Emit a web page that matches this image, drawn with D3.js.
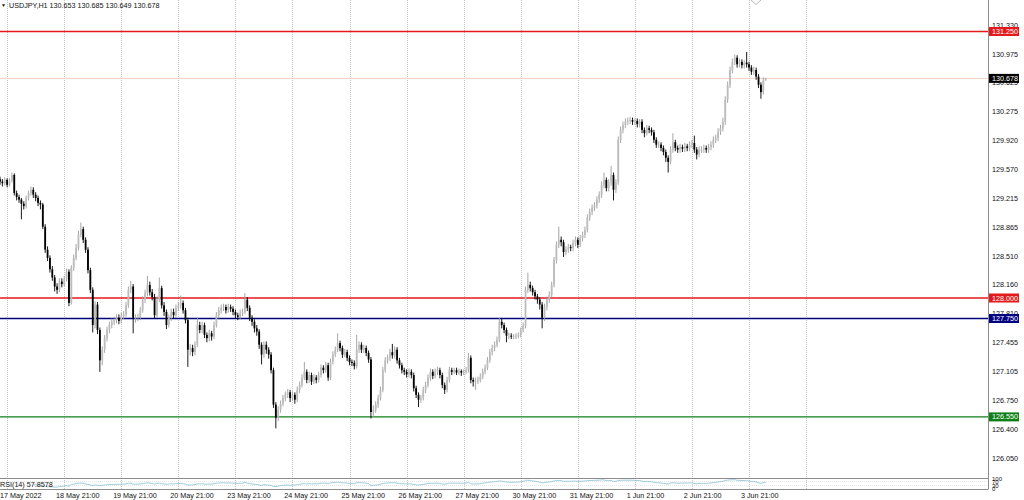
<!DOCTYPE html>
<html><head><meta charset="utf-8">
<script src="https://cdn.jsdelivr.net/npm/d3@7"></script>
<style>
body{margin:0;background:#fff;}
svg{display:block;font-family:'Liberation Sans',Arial,sans-serif;}
</style></head>
<body><svg id="c" width="1024" height="500"></svg>
<script>
// ---------------- DATA ----------------
const symbol = "USDJPY,H1";
const lastQuote = [130.653, 130.685, 130.649, 130.678]; // O H L C of current bar
const rsiLabel = "RSI(14) 57.8578";

const opens = [129.45,129.42,129.40,129.44,129.38,129.43,129.50,129.28,129.23,129.20,
129.15,129.12,129.22,129.28,129.32,129.26,129.22,129.16,129.14,128.87,
128.59,128.49,128.35,128.25,128.14,128.10,128.20,128.17,128.23,128.32,
127.94,128.37,128.49,128.61,128.77,128.84,128.71,128.59,128.34,128.10,
127.67,127.92,127.61,127.24,127.37,127.51,127.61,127.67,127.71,127.73,
127.76,127.72,127.78,127.80,127.91,128.10,128.14,127.76,127.76,127.77,
127.85,127.98,128.06,128.16,128.07,128.01,127.79,127.98,128.12,127.91,
127.83,127.67,127.76,127.83,127.79,127.88,127.91,127.94,127.85,127.73,
127.37,127.39,127.34,127.43,127.67,127.61,127.67,127.55,127.51,127.57,
127.53,127.67,127.79,127.85,127.88,127.89,127.85,127.89,127.87,127.83,
127.79,127.77,127.82,127.83,127.98,127.88,127.76,127.71,127.63,127.59,
127.43,127.31,127.43,127.37,127.31,127.12,126.70,126.54,126.64,126.71,
126.78,126.82,126.85,126.78,126.82,126.76,126.88,126.94,127.03,127.10,
127.00,127.06,126.98,127.03,127.00,127.06,127.15,127.12,127.18,127.03,
127.22,127.31,127.37,127.45,127.39,127.31,127.34,127.27,127.22,127.21,
127.17,127.37,127.43,127.37,127.39,127.33,127.25,126.61,126.64,126.70,
126.78,126.88,127.12,127.24,127.27,127.34,127.30,127.37,127.24,127.18,
127.12,127.10,127.07,127.10,127.06,126.90,126.82,126.76,126.78,126.88,
126.94,127.03,127.10,127.05,127.10,127.12,127.06,126.94,126.88,127.00,
127.12,127.10,127.12,127.09,127.11,127.09,127.10,127.12,127.27,127.00,
126.98,126.99,127.00,127.04,127.10,127.15,127.24,127.34,127.39,127.43,
127.49,127.71,127.67,127.61,127.54,127.54,127.53,127.53,127.54,127.55,
127.61,127.66,128.10,128.16,128.12,128.07,128.02,127.98,127.92,127.76,
127.89,127.98,128.04,128.16,128.46,128.65,128.71,128.68,128.56,128.59,
128.62,128.61,128.67,128.71,128.65,128.73,128.77,128.83,128.98,129.05,
129.10,129.13,129.20,129.26,129.38,129.44,129.34,129.41,129.50,129.32,
129.41,129.93,130.05,130.11,130.15,130.16,130.17,130.15,130.16,130.12,
130.15,130.05,130.01,130.07,130.05,130.02,129.93,129.87,129.87,129.83,
129.78,129.71,129.66,129.81,129.90,129.83,129.81,129.84,129.82,129.85,
129.83,129.87,129.89,129.81,129.75,129.81,129.81,129.83,129.81,129.84,
129.87,129.93,129.95,130.03,130.07,130.15,130.42,130.60,130.78,130.88,
130.93,130.85,130.88,130.84,130.87,130.85,130.81,130.76,130.78,130.70,
130.60,130.51,130.653];

const highs = [129.48,129.45,129.47,129.46,129.46,129.53,129.52,129.31,129.26,129.22,
129.18,129.25,129.31,129.36,129.35,129.29,129.25,129.19,129.16,128.90,
128.63,128.52,128.39,128.28,128.18,128.24,128.24,128.27,128.36,128.35,
128.40,128.53,128.66,128.82,128.92,128.87,128.74,128.62,128.37,128.13,
127.96,127.95,127.64,127.41,127.55,127.65,127.71,127.75,127.77,127.80,
127.80,127.82,127.84,127.95,128.14,128.21,128.17,127.80,127.81,127.89,
128.02,128.10,128.27,128.20,128.11,128.05,128.02,128.25,128.15,127.95,
127.86,127.80,127.87,127.87,127.92,127.95,128.03,127.97,127.88,127.76,
127.44,127.43,127.47,127.76,127.71,127.71,127.70,127.58,127.61,127.60,
127.71,127.83,127.89,127.92,127.93,127.92,127.93,127.92,127.90,127.86,
127.82,127.86,127.87,128.06,128.01,127.91,127.79,127.74,127.67,127.62,
127.46,127.47,127.47,127.40,127.34,127.15,126.73,126.68,126.75,126.82,
126.86,126.89,126.88,126.86,126.85,126.92,126.98,127.07,127.22,127.13,
127.10,127.09,127.07,127.06,127.10,127.19,127.18,127.22,127.21,127.26,
127.35,127.41,127.57,127.48,127.42,127.38,127.37,127.30,127.25,127.24,
127.55,127.47,127.46,127.43,127.42,127.36,127.28,126.69,126.74,126.82,
126.92,127.16,127.28,127.31,127.38,127.44,127.41,127.40,127.27,127.21,
127.15,127.13,127.14,127.13,127.09,126.93,126.85,126.82,126.92,126.98,
127.07,127.14,127.13,127.14,127.16,127.15,127.09,126.97,127.04,127.16,
127.15,127.15,127.15,127.14,127.13,127.13,127.16,127.33,127.30,127.03,
127.03,127.04,127.08,127.14,127.19,127.28,127.38,127.43,127.47,127.53,
127.76,127.75,127.70,127.64,127.58,127.57,127.56,127.57,127.58,127.64,
127.70,128.14,128.31,128.20,128.15,128.10,128.05,128.01,127.95,127.93,
128.02,128.08,128.20,128.50,128.69,128.87,128.75,128.71,128.63,128.66,
128.65,128.71,128.75,128.74,128.77,128.81,128.87,129.02,129.09,129.14,
129.17,129.24,129.30,129.42,129.53,129.47,129.45,129.61,129.53,129.45,
129.97,130.09,130.15,130.19,130.20,130.21,130.20,130.19,130.19,130.18,
130.18,130.08,130.11,130.10,130.08,130.05,129.96,129.91,129.90,129.86,
129.81,129.74,129.85,130.01,129.93,129.86,129.88,129.87,129.89,129.88,
129.91,129.93,129.98,129.84,129.85,129.85,129.87,129.86,129.88,129.91,
129.97,129.99,130.07,130.11,130.20,130.46,130.64,130.82,130.92,130.97,
130.96,130.92,130.91,130.90,131.00,130.88,130.84,130.82,130.81,130.73,
130.63,130.69,130.685];

const lows = [129.38,129.36,129.37,129.35,129.36,129.41,129.25,129.19,129.16,128.96,
129.08,129.09,129.19,129.25,129.22,129.18,129.12,129.08,128.84,128.55,
128.45,128.31,128.21,128.08,128.05,128.07,128.13,128.14,128.20,127.90,
127.92,128.33,128.46,128.58,128.74,128.67,128.55,128.30,128.06,127.58,
127.63,127.56,127.10,127.18,127.33,127.47,127.57,127.63,127.67,127.69,
127.68,127.69,127.74,127.77,127.88,128.06,127.57,127.70,127.72,127.73,
127.82,127.94,128.02,128.03,127.97,127.75,127.76,127.95,127.87,127.78,
127.62,127.64,127.72,127.75,127.76,127.84,127.87,127.81,127.69,127.16,
127.30,127.29,127.30,127.40,127.57,127.57,127.51,127.46,127.47,127.48,
127.50,127.64,127.75,127.81,127.84,127.81,127.82,127.83,127.79,127.75,
127.73,127.74,127.78,127.80,127.84,127.72,127.66,127.58,127.54,127.38,
127.19,127.27,127.32,127.26,127.08,126.66,126.41,126.50,126.60,126.68,
126.74,126.78,126.73,126.75,126.71,126.73,126.84,126.91,127.00,126.96,
126.96,126.94,126.95,126.96,126.97,127.03,127.08,127.09,126.99,127.00,
127.19,127.28,127.34,127.35,127.27,127.28,127.23,127.18,127.17,127.13,
127.14,127.33,127.33,127.33,127.29,127.21,126.53,126.55,126.60,126.66,
126.75,126.85,127.09,127.20,127.23,127.26,127.26,127.20,127.14,127.08,
127.06,127.03,127.03,127.02,126.86,126.78,126.67,126.72,126.75,126.84,
126.91,126.99,127.01,127.02,127.06,127.02,126.90,126.83,126.85,126.97,
127.06,127.07,127.06,127.06,127.05,127.06,127.07,127.09,126.96,126.92,
126.88,126.95,126.97,127.01,127.07,127.12,127.21,127.30,127.35,127.40,
127.46,127.63,127.57,127.46,127.50,127.50,127.50,127.50,127.51,127.52,
127.58,127.63,128.06,128.08,128.03,127.98,127.93,127.86,127.63,127.72,
127.85,127.94,128.01,128.13,128.42,128.61,128.63,128.50,128.52,128.55,
128.57,128.57,128.63,128.61,128.62,128.69,128.73,128.80,128.94,129.01,
129.06,129.09,129.16,129.22,129.34,129.30,129.30,129.37,129.19,129.28,
129.38,129.89,130.01,130.07,130.11,130.12,130.11,130.11,130.08,130.08,
130.01,129.96,129.98,130.01,129.98,129.89,129.83,129.83,129.79,129.74,
129.66,129.53,129.63,129.77,129.79,129.77,129.77,129.78,129.78,129.79,
129.79,129.83,129.77,129.69,129.72,129.77,129.77,129.77,129.77,129.80,
129.83,129.89,129.91,129.99,130.03,130.11,130.38,130.56,130.74,130.84,
130.81,130.81,130.80,130.80,130.81,130.77,130.72,130.72,130.66,130.56,
130.43,130.48,130.649];

const closes = [129.42,129.40,129.44,129.38,129.43,129.50,129.28,129.23,129.20,129.15,
129.12,129.22,129.28,129.32,129.26,129.22,129.16,129.14,128.87,128.59,
128.49,128.35,128.25,128.14,128.10,128.20,128.17,128.23,128.32,127.94,
128.37,128.49,128.61,128.77,128.84,128.71,128.59,128.34,128.10,127.67,
127.92,127.61,127.24,127.37,127.51,127.61,127.67,127.71,127.73,127.76,
127.72,127.78,127.80,127.91,128.10,128.14,127.76,127.76,127.77,127.85,
127.98,128.06,128.16,128.07,128.01,127.79,127.98,128.12,127.91,127.83,
127.67,127.76,127.83,127.79,127.88,127.91,127.94,127.85,127.73,127.37,
127.39,127.34,127.43,127.67,127.61,127.67,127.55,127.51,127.57,127.53,
127.67,127.79,127.85,127.88,127.89,127.85,127.89,127.87,127.83,127.79,
127.77,127.82,127.83,127.98,127.88,127.76,127.71,127.63,127.59,127.43,
127.31,127.43,127.37,127.31,127.12,126.70,126.54,126.64,126.71,126.78,
126.82,126.85,126.78,126.82,126.76,126.88,126.94,127.03,127.10,127.00,
127.06,126.98,127.03,127.00,127.06,127.15,127.12,127.18,127.03,127.22,
127.31,127.37,127.45,127.39,127.31,127.34,127.27,127.22,127.21,127.17,
127.37,127.43,127.37,127.39,127.33,127.25,126.61,126.64,126.70,126.78,
126.88,127.12,127.24,127.27,127.34,127.30,127.37,127.24,127.18,127.12,
127.10,127.07,127.10,127.06,126.90,126.82,126.76,126.78,126.88,126.94,
127.03,127.10,127.05,127.10,127.12,127.06,126.94,126.88,127.00,127.12,
127.10,127.12,127.09,127.11,127.09,127.10,127.12,127.27,127.00,126.98,
126.99,127.00,127.04,127.10,127.15,127.24,127.34,127.39,127.43,127.49,
127.71,127.67,127.61,127.54,127.54,127.53,127.53,127.54,127.55,127.61,
127.66,128.10,128.16,128.12,128.07,128.02,127.98,127.92,127.76,127.89,
127.98,128.04,128.16,128.46,128.65,128.71,128.68,128.56,128.59,128.62,
128.61,128.67,128.71,128.65,128.73,128.77,128.83,128.98,129.05,129.10,
129.13,129.20,129.26,129.38,129.44,129.34,129.41,129.50,129.32,129.41,
129.93,130.05,130.11,130.15,130.16,130.17,130.15,130.16,130.12,130.15,
130.05,130.01,130.07,130.05,130.02,129.93,129.87,129.87,129.83,129.78,
129.71,129.66,129.81,129.90,129.83,129.81,129.84,129.82,129.85,129.83,
129.87,129.89,129.81,129.75,129.81,129.81,129.83,129.81,129.84,129.87,
129.93,129.95,130.03,130.07,130.15,130.42,130.60,130.78,130.88,130.93,
130.85,130.88,130.84,130.87,130.85,130.81,130.76,130.78,130.70,130.60,
130.51,130.653,130.678];

// time axis (bar indices of labels, vertical separators)
const timeLabels = ["17 May 2022","18 May 21:00","19 May 21:00","20 May 21:00","23 May 21:00",
  "24 May 21:00","25 May 21:00","26 May 21:00","27 May 21:00","30 May 21:00","31 May 21:00",
  "1 Jun 21:00","2 Jun 21:00","3 Jun 21:00"];
const timeLabelBars = [0,24,48,72,96,120,144,168,192,216,240,264,288,312];
const gridBars = [3,27,51,75,99,123,147,171,195,219,243,267,291,315,339];

// price axis
const priceTicks = [131.330,130.975,130.625,130.275,129.920,129.570,129.215,128.865,
  128.510,128.160,127.810,127.455,127.105,126.750,126.400,126.050];
const levelPrices = [131.250,128.000,127.750,126.550];
const rsiTicks = [100,70,30,0];

// ---------------- STYLE ----------------
const levelColors = ["#e4191b","#e4191b","#00007f","#0f7f17"];
const font = 7.2;
const textCol = "#111";

const svg = d3.select("#c");
const plotR = 988, mainB = 478, rsiT = 478, rsiB = 489;
const x = d3.scaleLinear().domain([0,415.5]).range([0,plotR]);
const y = d3.scaleLinear().domain([125.805,131.634]).range([mainB,0]);
const yr = d3.scaleLinear().domain([0,100]).range([rsiB-0.5,rsiT+0.5]);

svg.append("rect").attr("width",1024).attr("height",500).attr("fill","#fff");

svg.append("clipPath").attr("id","mainclip").append("rect")
  .attr("x",0).attr("y",0).attr("width",plotR).attr("height",mainB);

// vertical separators
svg.append("g").selectAll("line").data(gridBars).join("line")
  .attr("x1",d=>Math.round(x(d))+0.5).attr("x2",d=>Math.round(x(d))+0.5)
  .attr("y1",0).attr("y2",rsiB)
  .attr("stroke","#c4c4c4").attr("stroke-width",1).attr("stroke-dasharray","1,1");

const main = svg.append("g").attr("clip-path","url(#mainclip)");

// bid line
main.append("line").attr("x1",0).attr("x2",plotR)
  .attr("y1",y(lastQuote[3])).attr("y2",y(lastQuote[3]))
  .attr("stroke","#f2d2c2").attr("stroke-width",1);

// horizontal levels
main.append("g").selectAll("line").data(levelPrices).join("line")
  .attr("x1",0).attr("x2",plotR)
  .attr("y1",d=>y(d)).attr("y2",d=>y(d))
  .attr("stroke",(d,i)=>levelColors[i]).attr("stroke-width",1.4);

// candles
const bars = closes.map((c,i)=>({i,o:opens[i],h:Math.max(highs[i],opens[i],c),l:Math.min(lows[i],opens[i],c),c}));
const cg = main.append("g");
cg.selectAll("line").data(bars).join("line")
  .attr("x1",d=>x(d.i)).attr("x2",d=>x(d.i))
  .attr("y1",d=>y(d.h)).attr("y2",d=>y(d.l))
  .attr("stroke",d=>d.c>=d.o?"#9c9c9c":"#000").attr("stroke-width",0.9);
const bw = 1.8;
cg.selectAll("rect").data(bars).join("rect")
  .attr("x",d=>x(d.i)-bw/2).attr("width",bw)
  .attr("y",d=>y(Math.max(d.o,d.c)))
  .attr("height",d=>Math.max(0.9,Math.abs(y(d.o)-y(d.c))))
  .attr("fill",d=>d.c>=d.o?"#bcbcbc":"#000");

// RSI (14, Wilder) computed from closes
function rsi(v,n){const out=[];let g=0,l=0;
  for(let i=1;i<v.length;i++){const d=v[i]-v[i-1],u=Math.max(d,0),w=Math.max(-d,0);
    if(i<=n){g+=u;l+=w;if(i===n){g/=n;l/=n;out.push([i,l===0?100:100-100/(1+g/l)]);}}
    else{g=(g*(n-1)+u)/n;l=(l*(n-1)+w)/n;out.push([i,l===0?100:100-100/(1+g/l)]);}}
  return out;}
const rsiVals = rsi(closes,14);
[70,30].forEach(v=>svg.append("line").attr("x1",0).attr("x2",plotR)
  .attr("y1",yr(v)).attr("y2",yr(v)).attr("stroke","#d8d8d8").attr("stroke-width",0.6).attr("stroke-dasharray","1,1"));
svg.append("path").datum(rsiVals)
  .attr("d",d3.line().x(d=>x(d[0])).y(d=>yr(d[1])))
  .attr("fill","none").attr("stroke","#86bfd3").attr("stroke-width",0.8);

// frame
svg.append("line").attr("x1",0).attr("x2",plotR).attr("y1",rsiT+0.5).attr("y2",rsiT+0.5).attr("stroke","#8c8c8c");
svg.append("line").attr("x1",0).attr("x2",plotR).attr("y1",rsiB+0.5).attr("y2",rsiB+0.5).attr("stroke","#8c8c8c");
svg.append("line").attr("x1",plotR+0.5).attr("x2",plotR+0.5).attr("y1",0).attr("y2",rsiB+0.5).attr("stroke","#8c8c8c");

// marker at top of the chart (object stub)
svg.append("path").attr("d","M751,0 L756,4.5 L761,0").attr("fill","none").attr("stroke","#b4b4b4").attr("stroke-width",1);

// price axis labels
const ax = svg.append("g").attr("font-size",font).attr("fill",textCol);
ax.selectAll("text").data(priceTicks).join("text")
  .attr("x",992).attr("y",d=>y(d)).attr("dy","0.36em").text(d=>d.toFixed(3));
ax.append("g").attr("font-size",6).selectAll("text").data(rsiTicks).join("text")
  .attr("x",992).attr("y",d=>yr(d)).attr("dy","0.36em").text(d=>d);

// price tags
function tag(p,fill){
  const g = svg.append("g");
  g.append("rect").attr("x",989).attr("y",y(p)-4.5).attr("width",30).attr("height",9).attr("fill",fill);
  g.append("text").attr("x",992).attr("y",y(p)).attr("dy","0.36em")
    .attr("font-size",font).attr("fill","#fff").text(p.toFixed(3));
}
levelPrices.forEach((p,i)=>tag(p,levelColors[i]));
tag(lastQuote[3],"#000");

// time labels
svg.append("g").attr("font-size",font).attr("fill",textCol)
  .selectAll("text").data(timeLabels).join("text")
  .attr("x",(d,i)=>Math.max(0,x(timeLabelBars[i])-1)).attr("y",495).attr("dy","0.36em").text(d=>d);

// title
svg.append("text").attr("x",1).attr("y",5).attr("dy","0.36em").attr("font-size",5).attr("fill",textCol).text("\u25BC");
svg.append("text").attr("x",9).attr("y",5).attr("dy","0.36em").attr("font-size",font).attr("fill",textCol)
  .text(symbol + "  " + lastQuote.map(v=>v.toFixed(3)).join(" "));

// RSI label
svg.append("text").attr("x",0).attr("y",484).attr("dy","0.36em").attr("font-size",font).attr("fill",textCol).text(rsiLabel);
</script></body></html>
